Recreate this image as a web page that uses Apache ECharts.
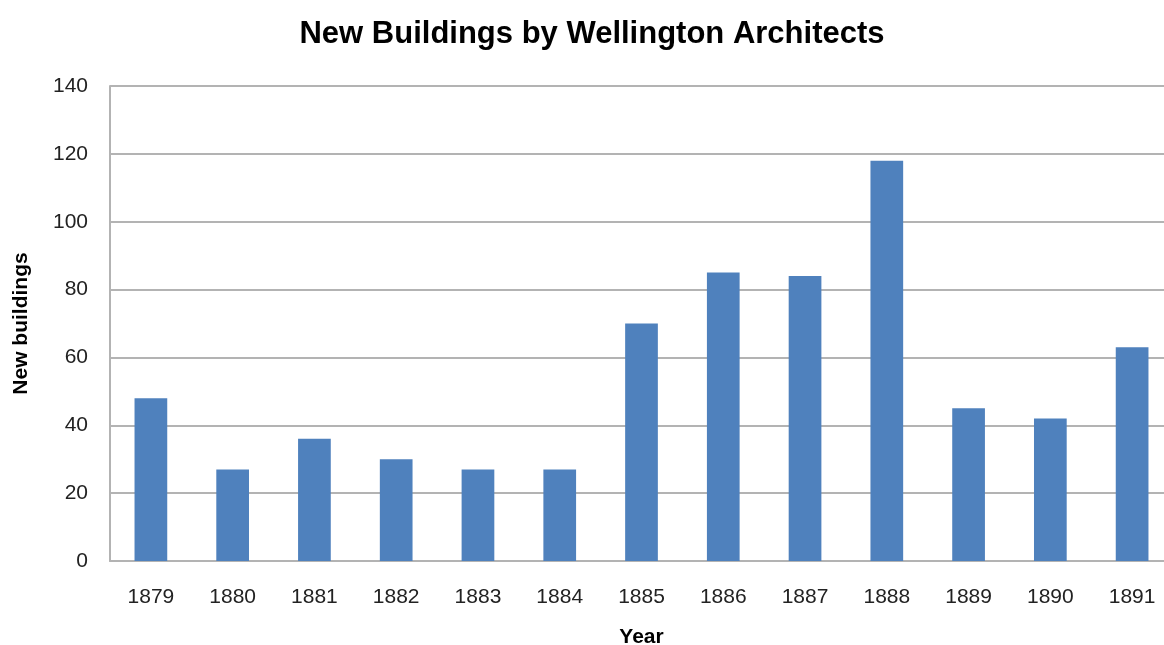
<!DOCTYPE html>
<html><head><meta charset="utf-8">
<script src="https://cdn.jsdelivr.net/npm/echarts@6/dist/echarts.min.js"></script>
<style>html,body{margin:0;padding:0;background:#fff}#c{width:1164px;height:645px}</style>
</head><body><div id="c"></div>
<script>
const titleText = 'New Buildings by Wellington Architects';
const categories = ['1879','1880','1881','1882','1883','1884','1885','1886','1887','1888','1889','1890','1891'];
const values = [48, 27, 36, 30, 27, 27, 70, 85, 84, 118, 45, 42, 63];
const xName = 'Year';
const yName = 'New buildings';
const sans = "'Liberation Sans', Arial, sans-serif";
const chart = echarts.init(document.getElementById('c'));
chart.setOption({
  animation: false,
  backgroundColor: '#ffffff',
  title: {
    text: titleText, left: 587, top: 14, textAlign: 'center',
    textStyle: { fontFamily: sans, fontWeight: 'bold', fontSize: 31, color: '#000' }
  },
  grid: { left: 110, top: 86, right: -9, bottom: 84, outerBoundsMode: 'none', containLabel: false },
  xAxis: {
    type: 'category', data: categories,
    name: xName, nameLocation: 'middle', nameGap: 66,
    nameTextStyle: { fontFamily: sans, fontWeight: 'bold', fontSize: 21, color: '#000' },
    axisLine: { lineStyle: { color: '#b3b3b3', width: 2 } },
    axisTick: { show: false },
    axisLabel: { fontFamily: sans, fontSize: 21, color: '#222', margin: 26 }
  },
  yAxis: {
    type: 'value', min: 0, max: 140, interval: 20,
    name: yName, nameLocation: 'middle', nameGap: 78, nameRotate: 90,
    nameTextStyle: { fontFamily: sans, fontWeight: 'bold', fontSize: 21, color: '#000' },
    axisLine: { show: true, lineStyle: { color: '#b3b3b3', width: 2 } },
    axisTick: { show: false },
    axisLabel: { fontFamily: sans, fontSize: 21, color: '#222', margin: 22 },
    splitLine: { lineStyle: { color: '#b3b3b3', width: 2 } }
  },
  series: [{
    type: 'bar', data: values, barWidth: '40%',
    itemStyle: { color: '#4f81bd' }
  }]
});
</script></body></html>
